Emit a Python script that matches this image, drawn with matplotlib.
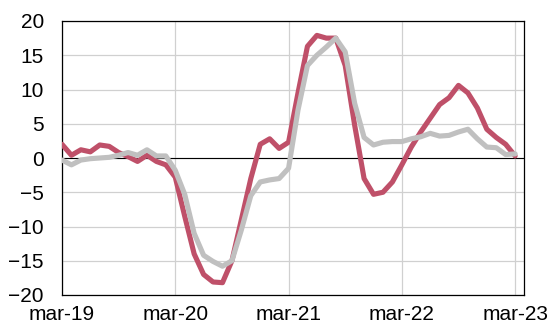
import matplotlib
matplotlib.use("Agg")
import matplotlib.pyplot as plt

plt.rcParams['font.family'] = ['Liberation Sans', 'DejaVu Sans']

# etiquetas del eje x (una por año, datos mensuales mar-19 .. mar-23)
etiquetas = ['mar-19', 'mar-20', 'mar-21', 'mar-22', 'mar-23']

serie_roja = [2.0, 0.4, 1.2, 0.9, 1.9, 1.7, 0.8, 0.2, -0.5, 0.4,
              -0.5, -1.0, -2.8, -8.5, -14.0, -17.0, -18.1, -18.2, -15.0, -9.0,
              -3.0, 2.0, 2.8, 1.4, 2.3, 9.5, 16.3, 17.9, 17.5, 17.5,
              13.5, 4.8, -3.0, -5.3, -5.0, -3.5, -1.0, 1.6, 3.8, 5.8,
              7.8, 8.8, 10.6, 9.5, 7.3, 4.2, 3.0, 2.0, 0.3]

serie_gris = [-0.3, -1.0, -0.3, -0.1, 0.0, 0.1, 0.4, 0.8, 0.4, 1.2,
              0.3, 0.3, -1.8, -5.3, -11.0, -14.2, -15.1, -15.8, -15.0, -10.5,
              -5.5, -3.5, -3.2, -3.0, -1.5, 7.0, 13.5, 15.0, 16.2, 17.5,
              15.5, 8.0, 3.0, 1.9, 2.3, 2.4, 2.4, 2.8, 3.1, 3.6,
              3.2, 3.3, 3.8, 4.2, 2.8, 1.6, 1.5, 0.5, 0.6]

meses = list(range(len(serie_roja)))

fig = plt.figure(figsize=(5.56, 3.24), dpi=100)
ax = fig.add_axes([62 / 556, 1 - 295 / 324, (524 - 62) / 556, (295 - 21) / 324])

ax.plot(meses, serie_roja, color='#bf5069', linewidth=3.7, solid_joinstyle='round',
        solid_capstyle='round', zorder=3)
ax.plot(meses, serie_gris, color='#c0c0c0', linewidth=3.7, solid_joinstyle='round',
        solid_capstyle='round', zorder=4)
ax.axhline(0, color='black', linewidth=0.8, zorder=2)

ax.set_xlim(0, 48.94)
ax.set_ylim(-20, 20)
ax.set_yticks(range(-20, 21, 5))
ax.set_xticks([0, 12, 24, 36, 48])
ax.set_xticklabels(etiquetas)
ax.tick_params(length=0, labelsize=15, colors='black')
ax.tick_params(axis='y', pad=13)
ax.tick_params(axis='x', pad=7)
ax.grid(True, color='#d0d0d0', linewidth=0.9, zorder=1)
ax.set_axisbelow(True)
for lado in ax.spines.values():
    lado.set_color('black')
    lado.set_linewidth(0.9)

fig.savefig('out.png', dpi=100)
